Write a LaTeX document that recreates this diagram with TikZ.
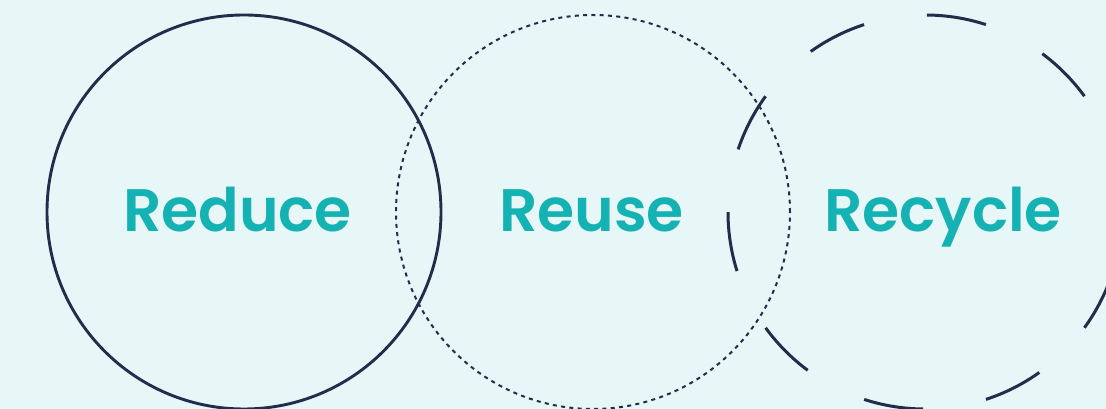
\documentclass[tikz,border=0pt]{standalone}
\usepackage{fontspec}
\newfontfamily\wordfont{Poppins SemiBold}
\definecolor{bgcyan}{HTML}{E7F6F7}
\definecolor{ringnavy}{HTML}{222D4B}
\definecolor{wordteal}{HTML}{14B2B3}

\tikzset{
  ring/.style={circle, draw=ringnavy, minimum size=394pt, inner sep=0pt},
  word/.style={anchor=base, text=wordteal, inner sep=0pt,
    font=\wordfont\fontsize{60}{60}\selectfont}
}

\begin{document}
\begin{tikzpicture}[x=1pt, y=1pt]
  \useasboundingbox (0,0) rectangle (1106,409);
  \fill[bgcyan] (0,0) rectangle (1106,409);
  \clip (0,0) rectangle (1106,409);
  % the three rings
  \node[ring, line width=2.9pt] (reducering) at (244,197) {};
  \node[ring, line width=2pt, dash pattern=on 4pt off 4.3pt] (reusering) at (593,197) {};
  \node[ring, line width=3pt, dash pattern=on 60pt off 63.8pt] (recyclering) at (925,197) {};
  % the words
  \node[word] (reduce) at (237.5,177) {Reduce};
  \node[word] (reuse) at (591.5,177) {Reuse};
  \node[word] (recycle) at (943,177) {Recycle};
\end{tikzpicture}
\end{document}
